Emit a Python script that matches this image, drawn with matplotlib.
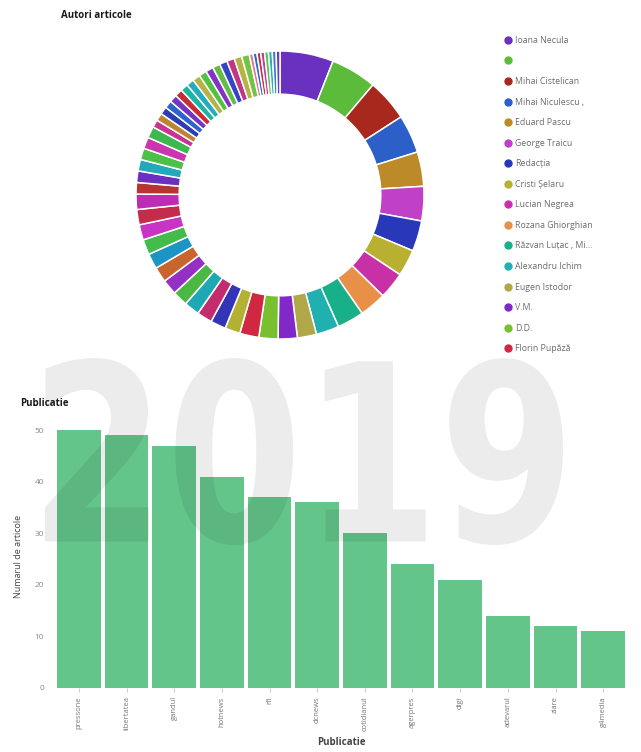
import matplotlib
matplotlib.use("Agg")
import matplotlib.pyplot as plt
from matplotlib.lines import Line2D
from matplotlib.textpath import TextPath
from matplotlib.patches import PathPatch
from matplotlib.font_manager import FontProperties
from matplotlib.transforms import Affine2D

plt.rcParams["font.family"] = ["Open Sans", "DejaVu Sans"]

# authors shown in the legend (top 16 of the donut)
author_names = [
    "Ioana Necula", "", "Mihai Cistelican", "Mihai Niculescu ,", "Eduard Pascu",
    "George Traicu", "Redacția", "Cristi Șelaru", "Lucian Negrea",
    "Rozana Ghiorghian", "Răzvan Luțac , Mi...", "Alexandru Ichim",
    "Eugen Istodor", "V.M.", "D.D.", "Florin Pupăză",
]
# articles per author, all slices of the donut
author_counts = [
    14, 12, 11, 10, 9, 9, 8, 7, 7, 7, 7, 6, 5, 5, 5, 5,
    4, 4, 4, 4, 4, 4, 4, 4, 4, 4, 4, 4,
    3, 3, 3, 3, 3, 3,
    2, 2, 2, 2, 2, 2, 2, 2, 2, 2, 2, 2, 2, 2, 2, 2,
    1, 1, 1, 1, 1, 1, 1, 1,
]
slice_colors = [
    "#6a30c0", "#5cbb3a", "#a8281e", "#2c60c8", "#bc8a28", "#c040c8",
    "#2838b8", "#b8b030", "#c830a8", "#e89048", "#18b088", "#20b0b0",
    "#b0a848", "#8028c8", "#78c030", "#d02840",
    "#b4b032", "#3434b8", "#c42c70", "#1ca8b4", "#4cb844", "#9430c4",
    "#c8642c", "#1c94c4", "#44bc4c", "#c834c4", "#c42c4c", "#bc2cb4",
    "#b83434", "#6c30c0", "#24a8bc", "#4cc048", "#cc34b0", "#3cb84c",
    "#c83494", "#bc8434", "#2c3cb4", "#2c64cc", "#7434c4", "#c82c34",
    "#1cb4a4", "#24acbc", "#b4b444", "#54c044", "#8434c4", "#64bc44",
    "#3444c4", "#c43484", "#b4b444", "#74c444", "#e474a4", "#2c6cc8",
    "#c43440", "#c03c9c", "#5cc454", "#28b4a8", "#3478d0", "#6c3cc0",
]

publications = [
    "pressone", "libertatea", "gandul", "hotnews", "rfi", "dcnews",
    "cotidianul", "agerpres", "digi", "adevarul", "ziare", "g4media",
]
article_counts = [50, 49, 47, 41, 37, 36, 30, 24, 21, 14, 12, 11]

W, H = 641, 752
fig = plt.figure(figsize=(W / 100, H / 100), dpi=100)
fig.patch.set_facecolor("white")


def px(x, y):
    return x / W, 1 - y / H


# --- donut: authors ---
cx, cy, r = 280, 195, 144
ax_d = fig.add_axes([(cx - r) / W, 1 - (cy + r) / H, 2 * r / W, 2 * r / H])
wedges, _ = ax_d.pie(author_counts, colors=slice_colors, startangle=90,
                     counterclock=False, radius=1,
                     wedgeprops=dict(width=0.30, edgecolor="white", linewidth=1.1))
ax_d.set_xlim(-1, 1)
ax_d.set_ylim(-1, 1)
ax_d.set_aspect("equal")
ax_d.axis("off")

fig.text(*px(61, 15), "Autori articole", fontsize=7, fontweight="bold",
         color="#1a1a1a", va="center", ha="left")

handles = [Line2D([], [], marker="o", linestyle="", markersize=5,
                  markerfacecolor=c, markeredgecolor=c)
           for c in slice_colors[:len(author_names)]]
fig.legend(handles, author_names, loc="upper left", bbox_to_anchor=px(505, 36),
           frameon=False, fontsize=6.3, labelcolor="#6d6d6d",
           handlelength=0.6, handletextpad=0.5, labelspacing=1.32,
           borderaxespad=0, borderpad=0)

# --- bar chart: publications ---
ax_b = fig.add_axes([55 / W, 1 - 688 / H, 572 / W, 263 / H])
ax_b.bar(range(len(publications)), article_counts, width=0.92, color="#64c58a")
ax_b.set_xlim(-0.5, len(publications) - 0.5)
ax_b.set_ylim(0, 51)
ax_b.set_yticks(range(0, 51, 10))
ax_b.set_xticks(range(len(publications)))
ax_b.set_xticklabels(publications, rotation=90, fontsize=5.5, color="#777777")
ax_b.tick_params(axis="y", length=0, labelsize=6, labelcolor="#8a8a8a", pad=8)
ax_b.tick_params(axis="x", length=3, color="#cccccc", pad=3)
for s in ax_b.spines.values():
    s.set_visible(False)
ax_b.set_ylabel("Numarul de articole", fontsize=6.5, color="#444444", labelpad=8)
ax_b.set_xlabel("Publicatie", fontsize=7, fontweight="bold", color="#444444",
                labelpad=4)

fig.text(*px(20, 403), "Publicatie", fontsize=7, fontweight="bold",
         color="#1a1a1a", va="center", ha="left")

# year watermark, heavy glyphs fitted into a fixed pixel box and laid over everything
year_path = TextPath((0, 0), "2019", size=100,
                     prop=FontProperties(family="DejaVu Sans", weight="bold"))
ext = year_path.get_extents()
box_l, box_t, box_r, box_b = 45, 358, 563, 545
sx = (box_r - box_l) / ext.width
sy = (box_b - box_t) / ext.height
to_px = (Affine2D().translate(-ext.x0, -ext.y0).scale(sx, sy)
         .translate(box_l, H - box_b))
fig.patches.append(PathPatch(to_px.transform_path(year_path), transform=None,
                             facecolor="black", edgecolor="none", alpha=0.075,
                             zorder=10, figure=fig))

fig.savefig("out.png", dpi=100, facecolor="white")
